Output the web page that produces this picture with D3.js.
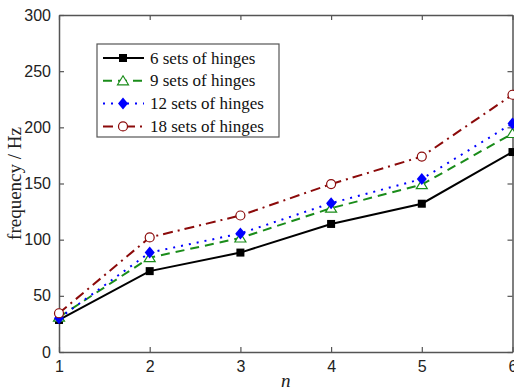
<!DOCTYPE html>
<html>
<head>
<meta charset="utf-8">
<script src="https://cdn.jsdelivr.net/npm/d3@7"></script>
<style>
  body { margin: 0; background: #fff; }
</style>
</head>
<body>
<div id="chart"></div>
<script>
// frequency vs n for different hinge counts

var nValues = [1, 2, 3, 4, 5, 6];
var hinges6  = [28.5, 72, 88.5, 114, 132, 178];
var hinges9  = [31, 84, 101.5, 128, 149, 194.5];
var hinges12 = [30, 88.5, 105.5, 132.5, 154, 203.5];
var hinges18 = [34.5, 102, 121.5, 149.5, 174, 229];
var seriesNames = ["6 sets of hinges", "9 sets of hinges", "12 sets of hinges", "18 sets of hinges"];
var yTicks = [0, 50, 100, 150, 200, 250, 300];

var width = 514,
    height = 389;

var margin = {left: 59, right: 1, top: 15, bottom: 37};

var svg = d3.select("#chart").append("svg")
    .attr("width", width)
    .attr("height", height);

var x = d3.scaleLinear().domain([1, 6]).range([margin.left, width - margin.right - 0.5]);
var y = d3.scaleLinear().domain([0, 300]).range([height - margin.bottom, margin.top]);

var series = [
  {name: seriesNames[0], values: hinges6,  color: "#000000", dash: null,      marker: "square"},
  {name: seriesNames[1], values: hinges9,  color: "#1a8c1a", dash: "9,6",     marker: "triangle"},
  {name: seriesNames[2], values: hinges12, color: "#0000ff", dash: "2,6",     marker: "diamond"},
  {name: seriesNames[3], values: hinges18, color: "#8b0a0a", dash: "10,5,2,5", marker: "circle"}
];

var axisColor = "#555";

// axes
var axBottom = svg.append("g")
    .attr("transform", "translate(0," + y(0) + ")")
    .call(d3.axisBottom(x).tickValues(nValues).tickFormat(d3.format("d")).tickSizeInner(-5).tickSizeOuter(0).tickPadding(9));
var axTop = svg.append("g")
    .attr("transform", "translate(0," + y(300) + ")")
    .call(d3.axisTop(x).tickValues(nValues).tickFormat("").tickSizeInner(-5).tickSizeOuter(0));
var axLeft = svg.append("g")
    .attr("transform", "translate(" + x(1) + ",0)")
    .call(d3.axisLeft(y).tickValues(yTicks).tickSizeInner(-5).tickSizeOuter(0).tickPadding(8));
var axRight = svg.append("g")
    .attr("transform", "translate(" + x(6) + ",0)")
    .call(d3.axisRight(y).tickValues(yTicks).tickFormat("").tickSizeInner(-5).tickSizeOuter(0));

[axBottom, axTop, axLeft, axRight].forEach(function(g) {
  g.select(".domain").attr("stroke", axisColor).attr("stroke-width", 1.5);
  g.selectAll(".tick line").attr("stroke", axisColor).attr("stroke-width", 1.2);
  g.selectAll(".tick text")
    .attr("fill", "#222")
    .style("font-family", "'Liberation Sans', Arial, sans-serif")
    .style("font-size", "16px");
});

// axis titles
svg.append("text")
    .attr("transform", "translate(21," + ((y(0) + y(300)) / 2) + ") rotate(-90)")
    .attr("text-anchor", "middle")
    .style("font-family", "'Liberation Serif', 'Times New Roman', serif")
    .style("font-size", "19px")
    .attr("fill", "#222")
    .text("frequency / Hz");

svg.append("text")
    .attr("x", (x(1) + x(6)) / 2)
    .attr("y", 387)
    .attr("text-anchor", "middle")
    .style("font-family", "'Liberation Serif', 'Times New Roman', serif")
    .style("font-style", "italic")
    .style("font-size", "19px")
    .attr("fill", "#222")
    .text("n");

// markers
function drawMarker(g, type, color, cx, cy) {
  if (type == "square") {
    g.append("rect").attr("x", cx - 4).attr("y", cy - 4).attr("width", 8).attr("height", 8).attr("fill", color);
  } else if (type == "triangle") {
    g.append("path")
      .attr("d", "M" + cx + "," + (cy - 5) + "L" + (cx + 5.5) + "," + (cy + 4) + "L" + (cx - 5.5) + "," + (cy + 4) + "Z")
      .attr("fill", "#fff").attr("stroke", color).attr("stroke-width", 1.2);
  } else if (type == "diamond") {
    g.append("path")
      .attr("d", "M" + cx + "," + (cy - 6) + "L" + (cx + 5) + "," + cy + "L" + cx + "," + (cy + 6) + "L" + (cx - 5) + "," + cy + "Z")
      .attr("fill", color);
  } else {
    g.append("circle").attr("cx", cx).attr("cy", cy).attr("r", 4.5)
      .attr("fill", "#fff").attr("stroke", color).attr("stroke-width", 1.2);
  }
}

var line = d3.line()
    .x(function(d, i) { return x(nValues[i]); })
    .y(function(d) { return y(d); });

series.forEach(function(s) {
  var g = svg.append("g");
  g.append("path")
    .attr("d", line(s.values))
    .attr("fill", "none")
    .attr("stroke", s.color)
    .attr("stroke-width", 2)
    .attr("stroke-dasharray", s.dash);
  s.values.forEach(function(v, i) {
    drawMarker(g, s.marker, s.color, x(nValues[i]), y(v));
  });
});

// legend
var legend = svg.append("g");
legend.append("rect")
    .attr("x", 97).attr("y", 44)
    .attr("width", 182).attr("height", 93)
    .attr("fill", "#fff")
    .attr("stroke", axisColor)
    .attr("stroke-width", 1.2);

series.forEach(function(s, i) {
  var ly = 58 + i * 22.8;
  legend.append("line")
    .attr("x1", 103).attr("x2", 144)
    .attr("y1", ly).attr("y2", ly)
    .attr("stroke", s.color)
    .attr("stroke-width", 2)
    .attr("stroke-dasharray", s.dash);
  drawMarker(legend, s.marker, s.color, 123, ly);
  legend.append("text")
    .attr("x", 150).attr("y", ly + 5.5)
    .style("font-family", "'Liberation Serif', 'Times New Roman', serif")
    .style("font-size", "17px")
    .attr("fill", "#111")
    .text(s.name);
});
</script>
</body>
</html>
